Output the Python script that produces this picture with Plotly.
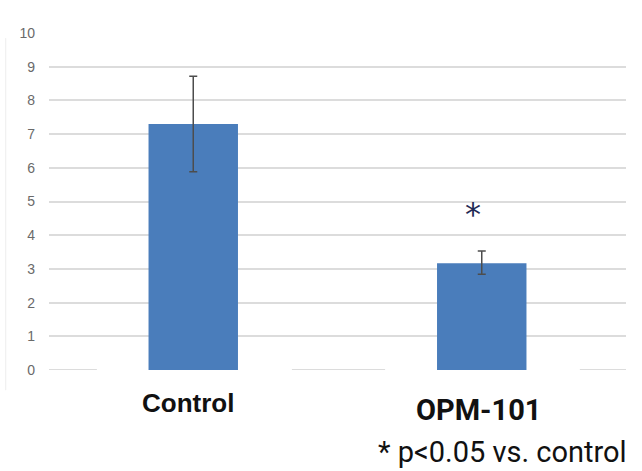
import plotly.graph_objects as go

categories = ["Control", "OPM-101"]
means = [7.3, 3.17]
errors_plus = [1.42, 0.36]
errors_minus = [1.42, 0.33]
y_ticks = list(range(0, 11))
sig_marker_y = 4.75
footnote = "* p<0.05 vs. control"

x_idx = list(range(len(categories)))

fig = go.Figure()
fig.add_trace(go.Bar(
    x=x_idx, y=means, width=0.31,
    marker=dict(color="#4a7dbb", line=dict(width=0)),
    error_y=dict(type="data", symmetric=False, array=errors_plus, arrayminus=errors_minus,
                 color="#4d4d4d", thickness=1.5, width=4),
))

# significance asterisk
fig.add_annotation(x=1, y=sig_marker_y, xref="x", yref="y", text="*", showarrow=False,
                   xshift=-9, yshift=-4,
                   font=dict(family="DejaVu Sans", size=32, color="#1f2a55"))

# category labels
label_styles = [(-5, -33, "Liberation Sans", 26), (-3, -40, "Roboto", 29)]
for i, (c, (dx, dy, fam, sz)) in enumerate(zip(categories, label_styles)):
    fig.add_annotation(x=i, y=0, xref="x", yref="y", text=f"<b>{c}</b>", showarrow=False,
                       xshift=dx, yshift=dy,
                       font=dict(family=fam, size=sz, color="#111111"))

fig.add_annotation(x=0, y=0, xref="paper", yref="paper", text=footnote, showarrow=False,
                   font=dict(family="Roboto", size=29, color="#111111"))

# zero line segments (broken as in the reference)
for x0, x1 in [(-0.5, -0.334), (0.342, 0.665), (1.34, 1.5)]:
    fig.add_shape(type="line", xref="x", yref="y", x0=x0, x1=x1, y0=0, y1=0,
                  line=dict(color="#dcdcdc", width=2), layer="below")

# faint image border
fig.add_shape(type="line", xref="paper", yref="paper", x0=-0.075, x1=-0.075, y0=-0.06, y1=0.985,
              line=dict(color="#eeeeee", width=1))

fig.update_layout(
    width=642, height=471,
    margin=dict(l=49, r=16, t=33, b=101),
    plot_bgcolor="white", paper_bgcolor="white",
    showlegend=False,
)
fig.update_xaxes(range=[-0.5, 1.5], showticklabels=False, showgrid=False, zeroline=False,
                 showline=False, fixedrange=True)
fig.update_yaxes(range=[0, 10], tickvals=y_ticks, showgrid=True, gridcolor="#dcdcdc", gridwidth=2,
                 zeroline=False, showline=False, ticklabelstandoff=13,
                 tickfont=dict(family="Liberation Sans", size=14, color="#6a6a6a"))

# footnote position in pixel terms of the page
fig.layout.annotations[-1].update(x=(502 - 49) / (642 - 49 - 16), y=-(452 - 370) / (370 - 33),
                                  xanchor="center", yanchor="middle")

fig.write_html("out.html")
